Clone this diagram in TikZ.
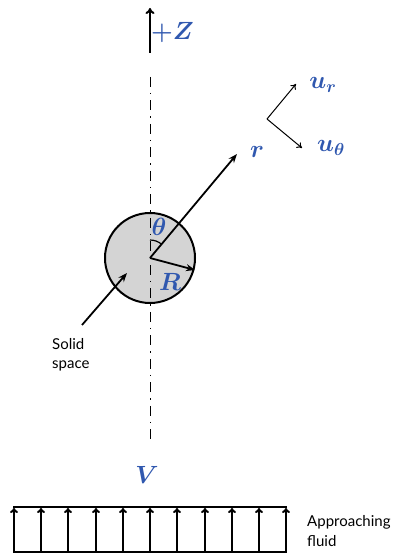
\documentclass[tikz,border=0pt]{standalone}
\usepackage{fontspec}
\newfontfamily\lab{Lato}
\usetikzlibrary{arrows.meta,calc}
\definecolor{lblue}{RGB}{48,88,175}
\definecolor{sgray}{RGB}{212,212,212}
\tikzset{
  thk/.style={line width=1.8pt,-{Stealth[length=9pt,width=7pt]}},
  thn/.style={line width=1pt,-{To[length=5pt,width=7pt]}},
  flow/.style={line width=2pt,-{To[length=5pt,width=8pt]}},
  mlab/.style={text=lblue,font=\fontsize{25}{27}\selectfont\boldmath,inner sep=0pt},
  tlab/.style={font=\lab\fontsize{15}{19.5}\selectfont,align=left,inner sep=0pt},
  axis/.style={line width=1pt,dash pattern=on 10pt off 6pt on 1.5pt off 6pt}
}
\begin{document}
\begin{tikzpicture}[x=1pt,y=1pt]
\useasboundingbox (0,0) rectangle (395,554);
% axis
\coordinate (atop) at (150,477);
\coordinate (abot) at (150,114);
% circle
\coordinate (C) at (150,296);
\node[circle,draw,line width=2pt,fill=sgray,minimum size=90pt,inner sep=0pt] (body) at (C) {};
\draw[axis] (atop) -- (abot);
% +Z
\coordinate (z0) at (150,501);
\coordinate (z1) at (150,546);
\draw[line width=2pt,-{To[length=6pt,width=9pt]}] (z0) -- (z1);
\node[mlab,anchor=west] (zl) at (151,521) {$+Z$};
% r
\coordinate (rt) at (237,400);
\draw[thk] (C) -- (rt);
\node[mlab] (rl) at (257,402) {$r$};
% R
\coordinate (Rt) at (195,284);
\draw[thk] (C) -- (Rt);
\node[mlab] (Rl) at (170,272) {$R$};
% theta
\draw[line width=1.2pt] ($(C)+(90:18)$) arc (90:50:18);
\node[mlab] (tl) at (159,327) {$\theta$};
% solid space
\coordinate (s0) at (82,229);
\coordinate (s1) at (127,281);
\draw[thk] (s0) -- (s1);
\node[tlab,anchor=north west] (sl) at (52,216) {Solid\\space};
% unit vectors
\coordinate (u0) at (267,435);
\coordinate (ur) at (296,470);
\coordinate (ut) at (302,406);
\draw[thn] (u0) -- (ur);
\draw[thn] (u0) -- (ut);
\node[mlab] (url) at (323,469) {$u_r$};
\node[mlab] (utl) at (331,406) {$u_\theta$};
% V
\node[mlab] (vl) at (147,79) {$V$};
% flow
\coordinate (bl) at (13,2);
\coordinate (br) at (287,2);
\coordinate (tlft) at (13,47);
\coordinate (trt) at (287,47);
\draw[line width=2pt] (bl) -- (br);
\draw[line width=2pt] (tlft) -- (trt);
\foreach \x [count=\i] in {14,41,68,96,123,150,177,205,232,259,286}{
  \coordinate (fa\i) at (\x,2);
  \coordinate (fb\i) at (\x,46);
  \draw[flow] (fa\i) -- (fb\i);
}
\node[tlab,anchor=west] (fl) at (307,23) {Approaching\\fluid};
\end{tikzpicture}
\end{document}
